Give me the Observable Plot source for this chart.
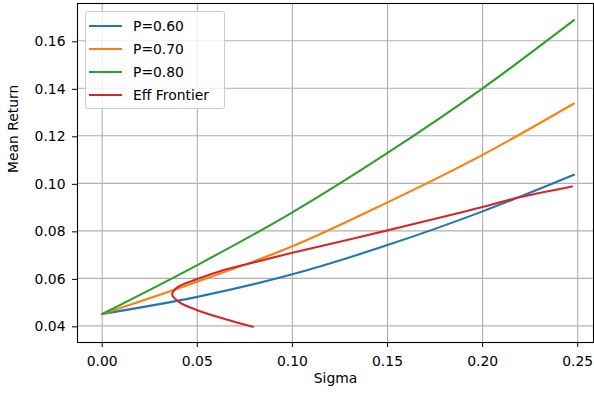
<!DOCTYPE html>
<html>
<head>
<meta charset="utf-8">
<script src="https://cdn.jsdelivr.net/npm/d3@7"></script>
<script src="https://cdn.jsdelivr.net/npm/@observablehq/plot@0.6"></script>
<style>
  html, body { margin: 0; padding: 0; background: #fff; }
  #wrap { position: relative; width: 594px; height: 398px; font-family: "DejaVu Sans", sans-serif; }
  #legend {
    position: absolute; left: 84.5px; top: 10.5px; width: 140px; height: 98px;
    box-sizing: border-box; background: rgba(255,255,255,0.8);
    border: 1px solid #cccccc; border-radius: 3px;
    font-size: 13.9px; color: #000;
  }
  .item { position: absolute; left: 0; height: 20px; }
  .sw { position: absolute; left: 3.5px; width: 33px; height: 2.1px; top: 9px; }
  .lbl { position: absolute; left: 47.5px; top: 0; line-height: 20px; white-space: nowrap; }
</style>
</head>
<body>
<div id="wrap"></div>
<script>
// ---- data ----
const sigmaGrid = [0, 0.05, 0.10, 0.15, 0.20, 0.248];
const p60 = [0.045, 0.0522, 0.0617, 0.0740, 0.0882, 0.1036];
const p70 = [0.045, 0.0586, 0.0735, 0.0920, 0.1120, 0.1336];
const p80 = [0.045, 0.0656, 0.0878, 0.1128, 0.1400, 0.1687];
const effSigma = [0.0792, 0.064, 0.050, 0.0405, 0.0368, 0.0395, 0.050, 0.064, 0.078, 0.10, 0.15, 0.20, 0.2175, 0.247];
const effMu    = [0.0396, 0.0430, 0.0466, 0.0500, 0.0532, 0.0562, 0.0597, 0.0635, 0.0664, 0.0708, 0.0802, 0.0900, 0.0938, 0.0987];
const seriesNames = ["P=0.60", "P=0.70", "P=0.80", "Eff Frontier"];
const seriesColors = ["#1f77b4", "#ff7f0e", "#2ca02c", "#d62728"];
const xTicks = [0, 0.05, 0.10, 0.15, 0.20, 0.25];
const yTicks = [0.04, 0.06, 0.08, 0.10, 0.12, 0.14, 0.16];

const rows = [];
[p60, p70, p80].forEach((vals, i) => {
  sigmaGrid.forEach((s, j) => rows.push({series: seriesNames[i], sigma: s, mu: vals[j], order: j}));
});
effSigma.forEach((s, j) => rows.push({series: seriesNames[3], sigma: s, mu: effMu[j], order: j}));

const fmt = d3.format(".2f");
const chart = Plot.plot({
  width: 594, height: 398,
  marginLeft: 77, marginRight: 1, marginTop: 3, marginBottom: 56,
  style: {fontFamily: "DejaVu Sans, sans-serif", fontSize: "13.9px", color: "#000", background: "#fff"},
  x: {domain: [-0.01298, 0.2583]},
  y: {domain: [0.0330, 0.1757]},
  color: {domain: seriesNames, range: seriesColors},
  marks: [
    Plot.gridX(xTicks, {stroke: "#b0b0b0", strokeOpacity: 1, strokeWidth: 1.1}),
    Plot.gridY(yTicks, {stroke: "#b0b0b0", strokeOpacity: 1, strokeWidth: 1.1}),
    Plot.line(rows, {x: "sigma", y: "mu", z: "series", stroke: "series", strokeWidth: 2.1, curve: "catmull-rom"}),
    Plot.frame({stroke: "#000", strokeWidth: 1.1}),
    Plot.axisX({ticks: xTicks, tickFormat: fmt, tickSize: 5, tickPadding: 9, label: null, stroke: "#000"}),
    Plot.axisY({ticks: yTicks, tickFormat: fmt, tickSize: 5, tickPadding: 7, dy: 1, label: null, stroke: "#000"}),
    Plot.text(["Sigma"], {frameAnchor: "bottom", dy: 40, text: d => d, fontSize: 13.9}),
    Plot.text(["Mean Return"], {frameAnchor: "left", dx: -64, rotate: -90, text: d => d, fontSize: 13.9})
  ]
});
const wrap = document.getElementById("wrap");
wrap.appendChild(chart);

const legend = document.createElement("div");
legend.id = "legend";
seriesNames.forEach((name, i) => {
  const item = document.createElement("div");
  item.className = "item";
  item.style.top = (4 + i * 23.2) + "px";
  item.style.width = "100%";
  const sw = document.createElement("div");
  sw.className = "sw";
  sw.style.background = seriesColors[i];
  const lb = document.createElement("div");
  lb.className = "lbl";
  lb.textContent = name;
  item.appendChild(sw); item.appendChild(lb);
  legend.appendChild(item);
});
wrap.appendChild(legend);
</script>
</body>
</html>
